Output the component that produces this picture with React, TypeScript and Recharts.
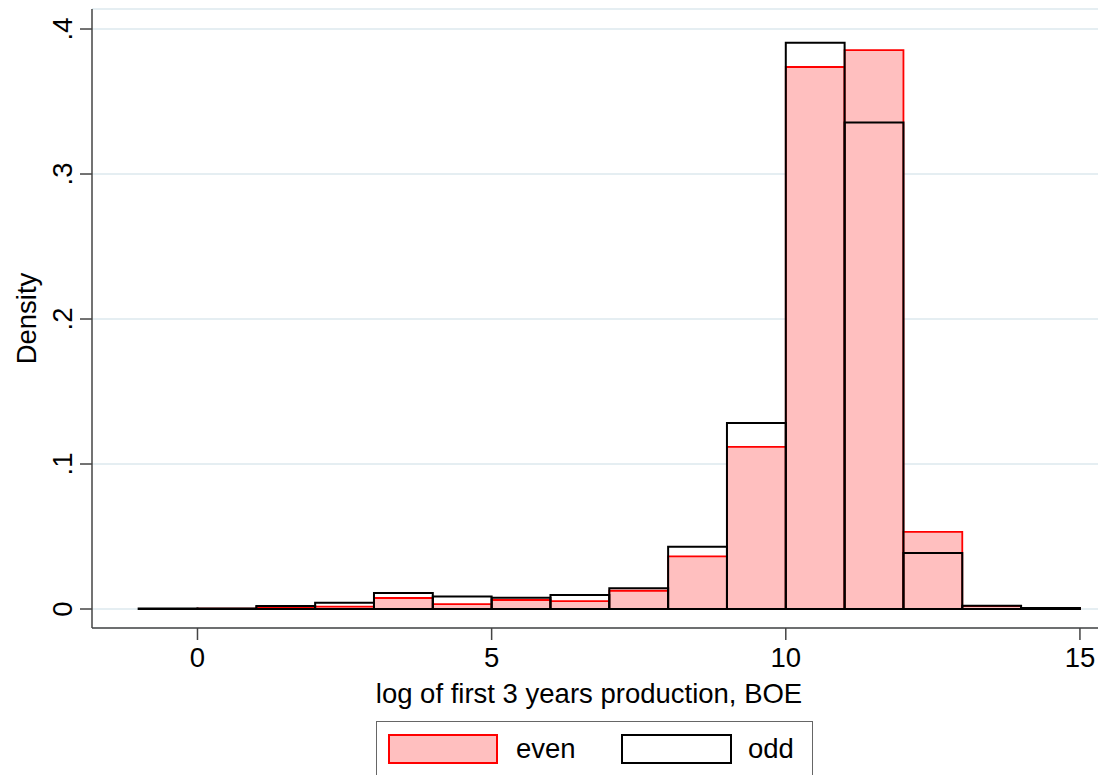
import React from 'react';
import { ComposedChart, Bar, XAxis, YAxis, CartesianGrid, Legend, Label } from 'recharts';

// Bin centres (bins of width 1, from -1 to 15)
const binCenters = [-0.5, 0.5, 1.5, 2.5, 3.5, 4.5, 5.5, 6.5, 7.5, 8.5, 9.5, 10.5, 11.5, 12.5, 13.5, 14.5];
const evenDensity = [0, 0.0003, 0.0012, 0.0016, 0.0076, 0.0034, 0.0062, 0.0055, 0.0126, 0.0363, 0.1118, 0.3738, 0.3855, 0.0532, 0.002, 0.0006];
const oddDensity = [0.0003, 0.0004, 0.002, 0.0044, 0.011, 0.0087, 0.0078, 0.0096, 0.0143, 0.0429, 0.1283, 0.3906, 0.3355, 0.0386, 0.0023, 0.0007];
const xTicks = [0, 5, 10, 15];
const yTicks = [0, 0.1, 0.2, 0.3, 0.4];
const yTickLabels = ['0', '.1', '.2', '.3', '.4'];
const seriesNames = ['even', 'odd'];

const data = binCenters.map((mid, i) => ({ mid, even: evenDensity[i], odd: oddDensity[i] }));

const FONT = '"Liberation Sans", Arial, Helvetica, sans-serif';
const AXIS = '#444';
const PINK = '#ffbfbf';
const RED = '#ff0000';

const XTick = (props: any) => {
  const { x, y, payload } = props;
  return (
    <text x={x} y={y} dy={25} textAnchor="middle" fontSize={27.5} fontFamily={FONT} fill="#000">
      {String(payload.value)}
    </text>
  );
};

const YTick = (props: any) => {
  const { x, y, payload } = props;
  const idx = yTicks.indexOf(payload.value);
  const label = idx >= 0 ? yTickLabels[idx] : String(payload.value);
  const cx = x - 16;
  return (
    <text
      x={cx}
      y={y}
      dy="0.36em"
      textAnchor="middle"
      fontSize={27.5}
      fontFamily={FONT}
      fill="#000"
      transform={`rotate(-90, ${cx}, ${y})`}
    >
      {label}
    </text>
  );
};

const renderLegend = () => (
  <div
    style={{
      width: 437,
      height: 60,
      border: `1.5px solid #666`,
      background: '#fff',
      position: 'relative',
      fontFamily: FONT,
      fontSize: 27.5,
      boxSizing: 'border-box',
    }}
  >
    <div style={{ position: 'absolute', left: 11, top: 12, width: 110, height: 30, background: PINK, border: `2px solid ${RED}`, boxSizing: 'border-box' }} />
    <div style={{ position: 'absolute', left: 139, top: 10, lineHeight: '34px', color: '#000' }}>{seriesNames[0]}</div>
    <div style={{ position: 'absolute', left: 244, top: 12, width: 111, height: 30, background: '#fff', border: `2px solid #000`, boxSizing: 'border-box' }} />
    <div style={{ position: 'absolute', left: 371, top: 10, lineHeight: '34px', color: '#000' }}>{seriesNames[1]}</div>
  </div>
);

export default function App() {
  return (
    <div style={{ position: 'absolute', left: 0, top: 0, width: 1105, height: 775, background: '#fff' }}>
      <ComposedChart width={1105} height={775} data={data} margin={{ top: 9, right: 7, left: 0, bottom: 0 }}>
        <CartesianGrid horizontal vertical={false} stroke="#dde9ee" strokeWidth={1.3} />
        <XAxis
          xAxisId="a"
          type="number"
          dataKey="mid"
          domain={[-1.793, 15.307]}
          allowDataOverflow
          ticks={xTicks}
          height={147}
          tickSize={12}
          tick={<XTick />}
          axisLine={{ stroke: AXIS, strokeWidth: 1.5 }}
          tickLine={{ stroke: AXIS, strokeWidth: 1.5 }}
        >
          <Label
            content={(p: any) => {
              const vb = p.viewBox || { x: 92, y: 628, width: 1006 };
              return (
                <text x={vb.x + vb.width / 2 - 6} y={vb.y + 75} textAnchor="middle" fontSize={27.5} fontFamily={FONT} fill="#000">
                  log of first 3 years production, BOE
                </text>
              );
            }}
          />
        </XAxis>
        <XAxis xAxisId="b" type="number" dataKey="mid" domain={[-1.793, 15.307]} allowDataOverflow hide />
        <YAxis
          type="number"
          domain={[-0.0131, 0.4138]}
          allowDataOverflow
          ticks={yTicks}
          width={92}
          tickSize={12}
          tick={<YTick />}
          axisLine={{ stroke: AXIS, strokeWidth: 1.5 }}
          tickLine={{ stroke: AXIS, strokeWidth: 1.5 }}
        >
          <Label
            content={(p: any) => {
              const vb = p.viewBox || { x: 0, y: 9, height: 619 };
              const cy = vb.y + vb.height / 2;
              return (
                <text x={26} y={cy} dy="0.36em" textAnchor="middle" fontSize={27.5} fontFamily={FONT} fill="#000" transform={`rotate(-90, 26, ${cy})`}>
                  Density
                </text>
              );
            }}
          />
        </YAxis>
        <Bar xAxisId="a" dataKey="even" name={seriesNames[0]} fill={PINK} stroke={RED} strokeWidth={1.8} barSize={58.83} isAnimationActive={false} />
        <Bar xAxisId="b" dataKey="odd" name={seriesNames[1]} fill="none" stroke="#000" strokeWidth={2} barSize={58.83} isAnimationActive={false} />
        <Legend
          layout="vertical"
          align="center"
          verticalAlign="middle"
          content={renderLegend}
          wrapperStyle={{ position: 'absolute', left: 376, top: 721, width: 437, height: 60 }}
        />
      </ComposedChart>
    </div>
  );
}
